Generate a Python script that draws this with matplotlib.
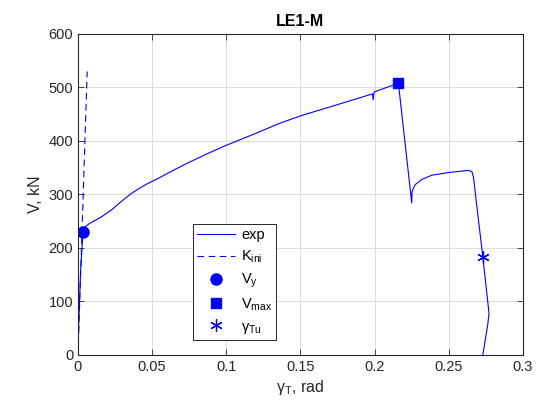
import matplotlib
matplotlib.use("Agg")
import matplotlib.pyplot as plt

plt.rcParams['font.family'] = ['Liberation Sans', 'DejaVu Sans']
plt.rcParams['mathtext.fontset'] = 'custom'
plt.rcParams['mathtext.rm'] = 'Liberation Sans'
plt.rcParams['mathtext.it'] = 'Liberation Sans:italic'

# experimental curve (gamma_T [rad], V [kN])
exp_gamma = [0.0, 0.0005, 0.0018, 0.0034, 0.0050, 0.0079, 0.0157, 0.0225, 0.0292,
             0.0360, 0.0410, 0.0460, 0.0540, 0.0607, 0.0733, 0.0870, 0.1000, 0.1205,
             0.1350, 0.1500, 0.1750, 0.1985, 0.1990, 0.1995, 0.2000, 0.2080, 0.2160,
             0.2250, 0.2252, 0.2262, 0.2272, 0.2317, 0.2385, 0.2497, 0.2632,
             0.2655, 0.2666, 0.2688, 0.2729, 0.2771, 0.2762, 0.2729]
exp_V = [0, 60, 160, 230, 240, 246, 258, 271, 287,
         302, 311, 319, 330, 340, 358, 376, 392, 415,
         432, 447, 468, 488, 477, 490, 492, 500, 508,
         284, 305, 312, 318, 328, 336, 341, 345,
         343, 333, 280, 184, 78, 56, 0]

# initial stiffness line
kini_gamma = [0.0, 0.0062]
kini_V = [0, 530]

# key points
vy_pt = (0.0034, 230)
vmax_pt = (0.2160, 508)
gtu_pt = (0.2729, 184)

fig = plt.figure(figsize=(5.39, 4.17), dpi=100)
ax = fig.add_axes([0.1447, 0.1487, 0.9703 - 0.1447, 0.9185 - 0.1487])

blue = (0, 0, 1)
ax.plot(exp_gamma, exp_V, color=blue, lw=0.8, label='exp')
ax.plot(kini_gamma, kini_V, color=blue, lw=0.8, ls=(0, (6, 4)), label=r'K$_{\rm ini}$')
ax.plot([vy_pt[0]], [vy_pt[1]], 'o', color=blue, ms=8, ls='none', label=r'V$_{\rm y}$')
ax.plot([vmax_pt[0]], [vmax_pt[1]], 's', color=blue, ms=7, ls='none', label=r'V$_{\rm max}$')
ax.plot([gtu_pt[0]], [gtu_pt[1]], ls='none', color=blue, marker=(6, 2, 0), ms=9,
        mew=0.9, label=r'γ$_{\rm Tu}$')

ax.set_xlim(0, 0.3)
ax.set_ylim(0, 600)
ax.set_xticks([0, 0.05, 0.1, 0.15, 0.2, 0.25, 0.3])
ax.set_xticklabels(['0', '0.05', '0.1', '0.15', '0.2', '0.25', '0.3'])
ax.set_yticks([0, 100, 200, 300, 400, 500, 600])
ax.grid(True, color='#dcdcdc', lw=0.7)
ax.set_axisbelow(True)
for s in ax.spines.values():
    s.set_color('#262626')
    s.set_linewidth(0.8)
ax.tick_params(direction='in', top=True, right=True, length=4, width=0.6,
               colors='#262626', labelsize=10.5, labelcolor='#262626')

ax.set_title('LE1-M', fontsize=11.5, fontweight='bold', color='black', pad=6)
ax.set_xlabel(r'γ$_{\rm T}$, rad', fontsize=11.5, color='#262626', labelpad=3)
ax.set_ylabel('V, kN', fontsize=11.5, color='#262626', labelpad=4)

leg = ax.legend(loc='lower left', bbox_to_anchor=(0.258, 0.047), fontsize=10.5,
                frameon=True, fancybox=False, edgecolor='#262626', framealpha=1,
                handlelength=2.6, borderpad=0.3, labelspacing=0.45, handletextpad=0.4,
                borderaxespad=0)
leg.get_frame().set_linewidth(0.7)

fig.savefig('out.png', dpi=100)
